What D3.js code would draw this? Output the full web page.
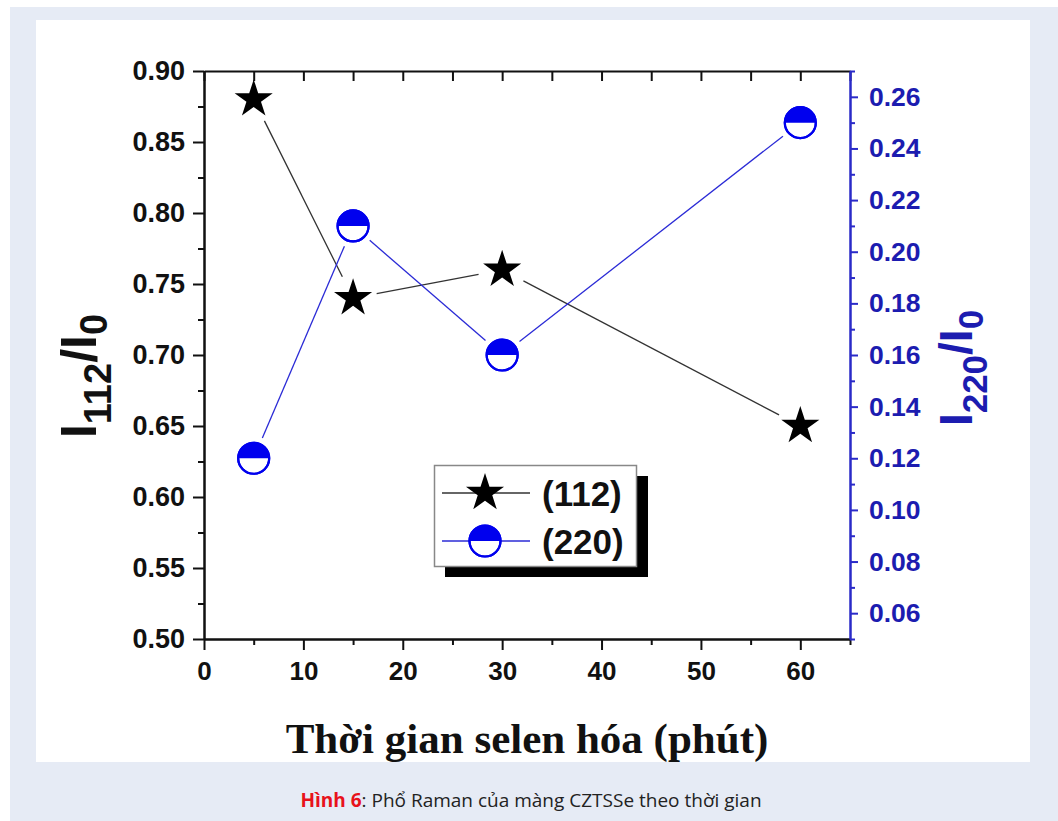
<!DOCTYPE html>
<html><head><meta charset="utf-8">
<script src="https://cdn.jsdelivr.net/npm/d3@7"></script>
<style>body{margin:0;background:#fff}svg{display:block}</style></head>
<body><svg id="c" width="1058" height="821"></svg>
<script>
// ---- data ----
const times = [5, 15, 30, 60];
const ratio112 = [0.88, 0.74, 0.76, 0.65];
const ratio220 = [0.12, 0.21, 0.16, 0.25];
const xTicks = [0, 10, 20, 30, 40, 50, 60];
const xMinorTicks = [5, 15, 25, 35, 45, 55, 65];
const yLeftTicks = [0.50, 0.55, 0.60, 0.65, 0.70, 0.75, 0.80, 0.85, 0.90];
const yLeftMinor = [0.525, 0.575, 0.625, 0.675, 0.725, 0.775, 0.825, 0.875];
const yRightTicks = [0.06, 0.08, 0.10, 0.12, 0.14, 0.16, 0.18, 0.20, 0.22, 0.24, 0.26];
const yRightMinor = [0.05, 0.07, 0.09, 0.11, 0.13, 0.15, 0.17, 0.19, 0.21, 0.23, 0.25, 0.27];
const legendLabels = ["(112)", "(220)"];
const xTitle = "Thời gian selen hóa (phút)";
const captionBold = "Hình 6";
const captionRest = ": Phổ Raman của màng CZTSSe theo thời gian";

const svg = d3.select("#c");
const W = 1058, H = 821;
const BLUE = "#0000ee", BLUE_TXT = "#1c1cb0", BLUE_AX = "#2a2ac8";
const SANS = "'Liberation Sans', Arial, sans-serif";

// background
svg.append("rect").attr("x", 0).attr("y", 0).attr("width", W).attr("height", H).attr("fill", "#fff");
svg.append("rect").attr("x", 10).attr("y", 7).attr("width", W - 10).attr("height", H - 7).attr("fill", "#e6ebf5");
svg.append("rect").attr("x", 36).attr("y", 20).attr("width", 994).attr("height", 742).attr("fill", "#fff");

const x = d3.scaleLinear().domain([0, 65]).range([204, 850]);
const yL = d3.scaleLinear().domain([0.50, 0.90]).range([639, 71]);
const yR = d3.scaleLinear().domain([0.05, 0.27]).range([639, 71]);

function styleAxis(g, color, size) {
  g.selectAll("path.domain").attr("stroke", color).attr("stroke-width", 2);
  g.selectAll(".tick line").attr("stroke", color).attr("stroke-width", 2);
  g.selectAll(".tick text").attr("fill", color).attr("font-family", SANS)
    .attr("font-weight", "bold").attr("font-size", size);
}

// top axis (inward ticks, no labels)
const gTop = svg.append("g").attr("transform", `translate(0,${yL.range()[1]})`)
  .call(d3.axisBottom(x).tickValues(xTicks.concat(xMinorTicks)).tickSize(10).tickSizeOuter(0).tickFormat(""));
styleAxis(gTop, "#111", 0);

// bottom axis
const gBotMinor = svg.append("g").attr("transform", `translate(0,${yL.range()[0]})`)
  .call(d3.axisBottom(x).tickValues(xMinorTicks).tickSize(6).tickSizeOuter(0).tickFormat(""));
styleAxis(gBotMinor, "#111", 0);
const gBot = svg.append("g").attr("transform", `translate(0,${yL.range()[0]})`)
  .call(d3.axisBottom(x).tickValues(xTicks).tickSize(11).tickPadding(12).tickSizeOuter(0).tickFormat(d3.format("d")));
styleAxis(gBot, "#111", 26);

// left axis
const gLMinor = svg.append("g").attr("transform", `translate(${x(0)},0)`)
  .call(d3.axisLeft(yL).tickValues(yLeftMinor).tickSize(6).tickSizeOuter(0).tickFormat(""));
styleAxis(gLMinor, "#111", 0);
const gL = svg.append("g").attr("transform", `translate(${x(0)},0)`)
  .call(d3.axisLeft(yL).tickValues(yLeftTicks).tickSize(11).tickPadding(8).tickSizeOuter(0).tickFormat(d3.format(".2f")));
styleAxis(gL, "#111", 27);

// right axis
const gRMinor = svg.append("g").attr("transform", `translate(${x(65)},0)`)
  .call(d3.axisRight(yR).tickValues(yRightMinor).tickSize(5).tickSizeOuter(0).tickFormat(""));
styleAxis(gRMinor, BLUE_AX, 0);
const gR = svg.append("g").attr("transform", `translate(${x(65)},0)`)
  .call(d3.axisRight(yR).tickValues(yRightTicks).tickSize(8).tickPadding(11).tickSizeOuter(0).tickFormat(d3.format(".2f")));
styleAxis(gR, BLUE_AX, 26.5);
gR.selectAll(".tick text").attr("fill", BLUE_TXT);

// connecting lines with gaps around markers
function gapLines(xs, ys, yScale, color, gap) {
  const pts = xs.map((t, i) => [x(t), yScale(ys[i])]);
  for (let i = 0; i < pts.length - 1; i++) {
    const [x0, y0] = pts[i], [x1, y1] = pts[i + 1];
    const dx = x1 - x0, dy = y1 - y0, L = Math.hypot(dx, dy);
    const ux = dx / L, uy = dy / L;
    svg.append("line")
      .attr("x1", x0 + ux * gap).attr("y1", y0 + uy * gap)
      .attr("x2", x1 - ux * gap).attr("y2", y1 - uy * gap)
      .attr("stroke", color).attr("stroke-width", 1.3);
  }
}
gapLines(times, ratio112, yL, "#333", 24);
gapLines(times, ratio220, yR, "#2b2bd6", 22);

// markers
const starPath = d3.symbol().type(d3.symbolStar).size(450)();
const halfArc = d3.arc().innerRadius(0).outerRadius(15.5).startAngle(-Math.PI / 2).endAngle(Math.PI / 2)();
function drawStar(g, cx, cy) {
  g.append("path").attr("d", starPath).attr("transform", `translate(${cx},${cy})`).attr("fill", "#000");
}
function drawHalf(g, cx, cy) {
  const m = g.append("g").attr("transform", `translate(${cx},${cy})`);
  m.append("circle").attr("r", 15.5).attr("fill", "#fff").attr("stroke", BLUE).attr("stroke-width", 2.2);
  m.append("path").attr("d", halfArc).attr("fill", BLUE);
  m.append("circle").attr("r", 15.5).attr("fill", "none").attr("stroke", BLUE).attr("stroke-width", 2.2);
}
times.forEach((t, i) => drawStar(svg, x(t), yL(ratio112[i])));
times.forEach((t, i) => drawHalf(svg, x(t), yR(ratio220[i])));

// legend
const lg = svg.append("g");
lg.append("rect").attr("x", 445).attr("y", 476).attr("width", 203).attr("height", 101).attr("fill", "#000");
lg.append("rect").attr("x", 434.5).attr("y", 465.5).attr("width", 202).attr("height", 101)
  .attr("fill", "#fff").attr("stroke", "#888").attr("stroke-width", 1.5);
const legRows = [
  {label: legendLabels[0], y: 493, color: "#333", draw: (g, cx, cy) => drawStar(g, cx, cy)},
  {label: legendLabels[1], y: 541, color: "#2b2bd6", draw: (g, cx, cy) => drawHalf(g, cx, cy)}
];
legRows.forEach(r => {
  lg.append("line").attr("x1", 442).attr("x2", 530).attr("y1", r.y).attr("y2", r.y)
    .attr("stroke", r.color).attr("stroke-width", 1.3);
  r.draw(lg, 485, r.y);
  lg.append("text").attr("x", 542).attr("y", r.y).attr("dy", "0.36em")
    .attr("font-family", SANS).attr("font-weight", "bold").attr("font-size", 35)
    .attr("fill", "#111").text(r.label);
});

// y titles
function yTitle(cx, cy, sub1, sub2, color, big, small, shift) {
  const t = svg.append("text").attr("transform", `translate(${cx},${cy}) rotate(-90)`)
    .attr("text-anchor", "middle").attr("font-family", SANS).attr("font-weight", "bold").attr("fill", color);
  t.append("tspan").attr("font-size", big).text("I");
  t.append("tspan").attr("font-size", small).attr("dy", shift).text(sub1);
  t.append("tspan").attr("font-size", big).attr("dy", -shift).text("/I");
  t.append("tspan").attr("font-size", small).attr("dy", shift * 0.75).text(sub2);
}
yTitle(96, 376, "112", "0", "#111", 50, 38, 15);
yTitle(972, 368, "220", "0", BLUE_TXT, 46, 35, 15);

// x title
svg.append("text").attr("x", 527).attr("y", 753).attr("text-anchor", "middle")
  .attr("font-family", "'Liberation Serif', 'Times New Roman', serif").attr("font-weight", "bold")
  .attr("font-size", 43).attr("fill", "#111").text(xTitle);

// caption
const cap = svg.append("text").attr("x", 531).attr("y", 807).attr("text-anchor", "middle")
  .attr("font-family", "'Open Sans', 'Noto Sans', sans-serif").attr("font-size", 19).attr("fill", "#222");
cap.append("tspan").attr("fill", "#e8121b").attr("font-weight", "bold").text(captionBold);
cap.append("tspan").text(captionRest);
</script></body></html>
